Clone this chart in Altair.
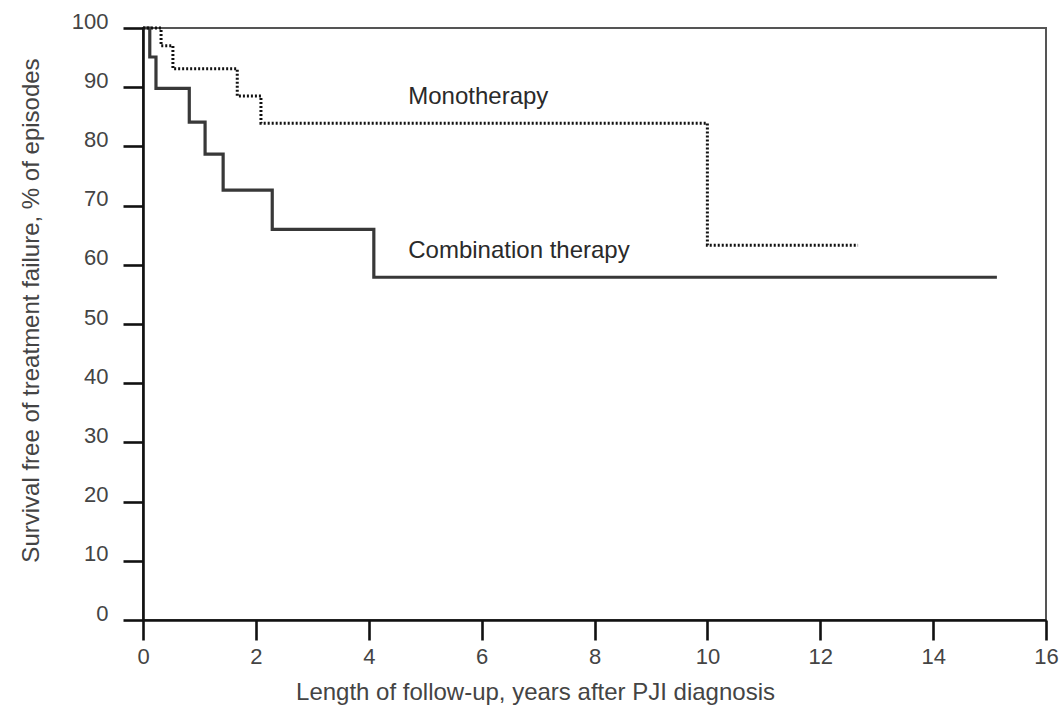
import altair as alt
import pandas as pd

# Kaplan-Meier step points (years, % survival free of treatment failure)
combo_years = [0, 0.12, 0.23, 0.82, 1.10, 1.42, 2.29, 4.09, 15.13]
combo_pct = [100, 95.1, 89.8, 84.1, 78.7, 72.6, 66.0, 57.9, 57.9]

mono_years = [0, 0.32, 0.53, 1.67, 2.09, 10.0, 12.67]
mono_pct = [100, 97.0, 93.1, 88.5, 83.9, 63.3, 63.3]

x_ticks = list(range(0, 17, 2))
y_ticks = list(range(0, 101, 10))

# curve labels and their anchor points (left edge, vertical middle)
label_text = ["Monotherapy", "Combination therapy"]
label_x = [4.70, 4.70]
label_y = [88.3, 62.3]

FONT = "Liberation Sans"

combo_df = pd.DataFrame({"years": combo_years, "pct": combo_pct})
mono_df = pd.DataFrame({"years": mono_years, "pct": mono_pct})
labels_df = pd.DataFrame({"text": label_text, "x": label_x, "y": label_y})

x_enc = alt.X(
    "years:Q",
    scale=alt.Scale(domain=[0, 16], nice=False, zero=False),
    axis=alt.Axis(
        values=x_ticks,
        format="d",
        labelFlush=False,
        title="Length of follow-up, years after PJI diagnosis",
        labelPadding=6,
        titleX=392,
        titleY=72,
        titleAlign="center",
        titleBaseline="middle",
    ),
)
y_enc = alt.Y(
    "pct:Q",
    scale=alt.Scale(domain=[0, 100], nice=False),
    axis=alt.Axis(
        values=y_ticks,
        format="d",
        labelFlush=False,
        title="Survival free of treatment failure, % of episodes",
        labelBaseline="alphabetic",
        labelPadding=15,
        titleX=-112,
        titleY=282,
        titleAlign="center",
        titleBaseline="middle",
    ),
)

combo_line = alt.Chart(combo_df).mark_line(
    interpolate="step-after", color="#383838", strokeWidth=3.2
).encode(x=x_enc, y=y_enc)

mono_line = alt.Chart(mono_df).mark_line(
    interpolate="step-after", color="#111111", strokeWidth=3, strokeDash=[2, 2]
).encode(x="years:Q", y="pct:Q")

labels = alt.Chart(labels_df).mark_text(
    align="left", baseline="middle", font=FONT, fontSize=24, color="#2a2a2a"
).encode(x="x:Q", y="y:Q", text="text:N")

chart = (
    alt.layer(combo_line, mono_line, labels)
    .properties(
        width=903,
        height=592,
        autosize="none",
        background="white",
        padding={"left": 143, "top": 28, "right": 13, "bottom": 85},
    )
    .configure_view(stroke="#555555", strokeWidth=2)
    .configure_axis(
        grid=False,
        domainColor="#111111",
        domainWidth=2.6,
        tickColor="#111111",
        tickWidth=2.6,
        tickSize=20,
        labelFont=FONT,
        labelFontSize=22,
        labelColor="#444444",
        titleFont=FONT,
        titleFontSize=24,
        titleFontWeight="normal",
        titleColor="#444444",
    )
)

chart.save("out.html", embed_options={"renderer": "svg", "actions": False})
